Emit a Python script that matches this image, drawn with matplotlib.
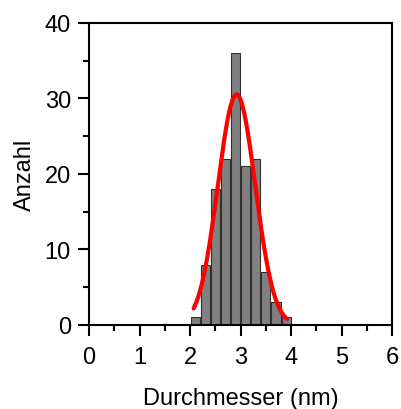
import numpy as np
import matplotlib
matplotlib.use('Agg')
import matplotlib.pyplot as plt
from matplotlib.ticker import MultipleLocator

plt.rcParams['font.family'] = ['Liberation Sans', 'DejaVu Sans']

# histogram bins (left edges, nm) and counts
bin_left = [2.0, 2.2, 2.4, 2.6, 2.8, 3.0, 3.2, 3.4, 3.6, 3.8]
counts = [1, 8, 18, 22, 36, 21, 22, 7, 3, 1]
bin_width = 0.2

# gaussian fit parameters
fit_amp = 30.5
fit_center = 2.92
fit_sigma = 0.37
fit_range = (2.07, 3.92)

fig = plt.figure(figsize=(4.01, 4.10), dpi=100)
ax = fig.add_axes([0.222, 0.205, 0.756, 0.737])

ax.bar(np.array(bin_left) + bin_width / 2, counts, width=0.18,
       color='#808080', edgecolor='#303030', linewidth=0.8, zorder=2)

xf = np.linspace(fit_range[0], fit_range[1], 200)
yf = fit_amp * np.exp(-(xf - fit_center) ** 2 / (2 * fit_sigma ** 2))
ax.plot(xf, yf, color='red', lw=3, zorder=3, solid_capstyle='round')

ax.set_xlim(0, 6)
ax.set_ylim(0, 40)
ax.xaxis.set_major_locator(MultipleLocator(1))
ax.xaxis.set_minor_locator(MultipleLocator(0.5))
ax.yaxis.set_major_locator(MultipleLocator(10))
ax.yaxis.set_minor_locator(MultipleLocator(5))
ax.tick_params(which='major', length=8, width=1.5, labelsize=17,
               direction='out', pad=5)
ax.tick_params(axis='x', which='major', pad=7)
ax.tick_params(which='minor', length=4.5, width=1.5, direction='out')
for s in ax.spines.values():
    s.set_linewidth(1.5)

ax.set_xlabel('Durchmesser (nm)', fontsize=17, labelpad=14)
ax.set_ylabel('Anzahl', fontsize=17, labelpad=6)

fig.savefig('out.png', dpi=100)
